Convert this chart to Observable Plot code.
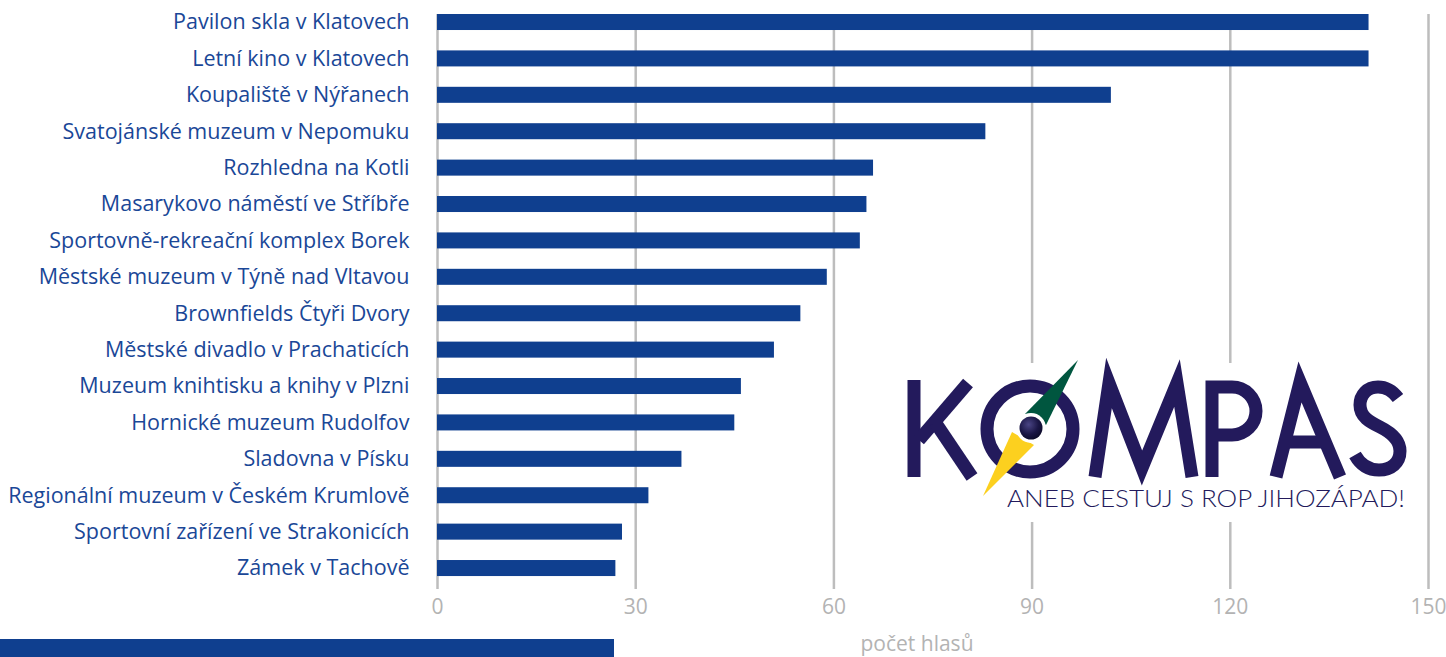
<!DOCTYPE html>
<html><head><meta charset="utf-8">
<script src="https://cdn.jsdelivr.net/npm/d3@7"></script>
<script src="https://cdn.jsdelivr.net/npm/@observablehq/plot@0.6"></script>
<style>
html,body{margin:0;padding:0;background:#fff;}
#wrap{position:relative;width:1446px;height:657px;overflow:hidden;background:#fff;}
#wrap svg{display:block;}
.overlay{position:absolute;left:0;top:0;pointer-events:none;}
.swatch{position:absolute;left:0;top:639px;width:614px;height:18px;background:#0f3f8f;}
</style></head><body><div id="wrap"></div>
<script>
const places = [
  "Pavilon skla v Klatovech",
  "Letní kino v Klatovech",
  "Koupaliště v Nýřanech",
  "Svatojánské muzeum v Nepomuku",
  "Rozhledna na Kotli",
  "Masarykovo náměstí ve Stříbře",
  "Sportovně-rekreační komplex Borek",
  "Městské muzeum v Týně nad Vltavou",
  "Brownfields Čtyři Dvory",
  "Městské divadlo v Prachaticích",
  "Muzeum knihtisku a knihy v Plzni",
  "Hornické muzeum Rudolfov",
  "Sladovna v Písku",
  "Regionální muzeum v Českém Krumlově",
  "Sportovní zařízení ve Strakonicích",
  "Zámek v Tachově"
];
const votes = [141, 141, 102, 83, 66, 65, 64, 59, 55, 51, 46, 45, 37, 32, 28, 27];
const xTicks = [0, 30, 60, 90, 120, 150];
const xLabel = "počet hlasů";
const logoWord = "KOMPAS";
const logoTagline = "ANEB CESTUJ S ROP JIHOZÁPAD!";

const data = places.map((p, i) => ({place: p, votes: votes[i]}));

const chart = Plot.plot({
  width: 1446,
  height: 657,
  marginTop: 14,
  marginBottom: 68,
  marginLeft: 437,
  marginRight: 18,
  style: {fontFamily: "'Open Sans', sans-serif", fontSize: "21.5px", background: "#fff"},
  x: {domain: [0, 150], ticks: xTicks},
  y: {domain: places, paddingInner: 0.56, paddingOuter: 0.178, align: 0, round: false},
  marks: [
    Plot.gridX(xTicks, {stroke: "#bdbdbd", strokeWidth: 2.5, strokeOpacity: 1}),
    Plot.barX(data, {x: "votes", y: "place", fill: "#0f3f8f"}),
    Plot.axisY({tickSize: 0, tickPadding: 28, label: null, fill: "#1a4797", fontSize: 21.5}),
    Plot.axisX(xTicks, {tickSize: 0, tickPadding: 10, label: null, fill: "#b3b3b3", fontSize: 21}),
    Plot.text([xLabel], {frameAnchor: "bottom", dy: 61, dx: -16, fill: "#b3b3b3", fontSize: 21})
  ]
});
const wrap = document.getElementById("wrap");
wrap.appendChild(chart);

const sw = document.createElement("div");
sw.className = "swatch";
wrap.appendChild(sw);

// KOMPAS logo decoration
const NS = "http://www.w3.org/2000/svg";
const navy = "#231a5c";
const logo = `
<svg class="overlay" xmlns="${NS}" width="1446" height="657" viewBox="0 0 1446 657">
  <title>${logoWord} – ${logoTagline}</title>
  <defs>
    <radialGradient id="ball" cx="0.4" cy="0.35" r="0.7">
      <stop offset="0" stop-color="#4a4585"/>
      <stop offset="0.6" stop-color="#1a1645"/>
      <stop offset="1" stop-color="#0b0a28"/>
    </radialGradient>
  </defs>
  <rect x="884" y="363" width="536" height="159" fill="#fff"/>
  <g fill="none" stroke="${navy}" stroke-width="13" stroke-linejoin="miter" stroke-miterlimit="12">
    <line x1="914" y1="380" x2="914" y2="477"/>
    <line x1="919" y1="440" x2="968" y2="383"/>
    <line x1="935" y1="422" x2="972" y2="477"/>
    <circle cx="1030" cy="429" r="43"/>
    <polyline points="1095,477 1109,383 1142,468 1177,383 1192,477"/>
    <path d="M1212,477 V387 H1232 A24,24 0 0 1 1232,435 H1212"/>
    <polyline points="1276,477 1300,382 1340,477"/>
    <line x1="1288" y1="442" x2="1327" y2="442"/>
    <path d="M1398,398 C1392,390 1386,387 1378,387 C1367,387 1360,395 1360,405 C1360,417 1370,422 1380,427 C1392,433 1400,440 1400,451 C1400,463 1391,470 1379,470 C1368,470 1360,464 1355,455"/>
  </g>
  <polygon points="1078,360 1025,414 1046,425" fill="#00563f"/>
  <polygon points="983,496 1012,432 1034,445" fill="#fcd01f"/>
  <circle cx="1031" cy="428" r="15" fill="#fff"/>
  <circle cx="1031" cy="428" r="11.5" fill="url(#ball)"/>
  <text x="1007" y="507" textLength="398" lengthAdjust="spacingAndGlyphs" font-family="Lato, 'Open Sans', sans-serif" font-weight="300" font-size="23" fill="${navy}">${logoTagline}</text>
</svg>`;
wrap.insertAdjacentHTML("beforeend", logo);
</script>
</body></html>
